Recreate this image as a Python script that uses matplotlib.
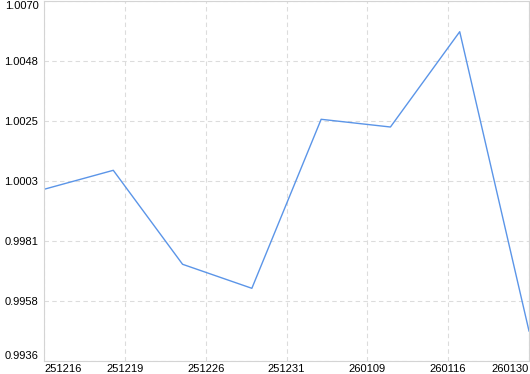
import matplotlib
matplotlib.use("Agg")
import matplotlib.pyplot as plt
import numpy as np

# values
values = [1.000002, 1.000709, 0.997211, 0.996317, 1.002608, 1.002321, 1.005868, 0.994728]
tick_labels = ["251216", "251219", "251226", "251231", "260109", "260116", "260130"]
y_min, y_max = 0.9936, 1.0070

LINE = "#5b95e8"
GRID = "#dcdcdc"
FRAME = "#d4d4d4"

plt.rcParams["font.family"] = ["Liberation Sans", "DejaVu Sans"]

fig = plt.figure(figsize=(5.30, 3.74), dpi=100)
ax = fig.add_axes([44 / 530, (374 - 361.3) / 374, 485 / 530, 360 / 374])

x = np.arange(len(values))
ax.plot(x, values, color=LINE, linewidth=1.0)

ax.set_xlim(0, len(values) - 1)
ax.set_ylim(y_min, y_max)

xt = np.linspace(0, len(values) - 1, len(tick_labels))
yt = np.linspace(y_min, y_max, 7)
ax.set_xticks(xt)
ax.set_yticks(yt)
ax.set_xticklabels(tick_labels)
ax.set_yticklabels([f"{v:.4f}" for v in yt])

ax.tick_params(length=0, labelsize=8, colors="black")
ax.tick_params(axis="x", pad=2)
ax.tick_params(axis="y", pad=4)

# edge labels pulled inward like the original
xl = ax.get_xticklabels()
xl[0].set_ha("left")
xl[-1].set_ha("right")
yl = ax.get_yticklabels()
yl[0].set_va("bottom")
yl[-1].set_va("top")

ax.grid(True, color=GRID, linestyle=(0, (4, 3)), linewidth=0.8)
ax.set_axisbelow(True)
for s in ax.spines.values():
    s.set_color(FRAME)
    s.set_linewidth(0.8)

fig.savefig("out.png", dpi=100)
